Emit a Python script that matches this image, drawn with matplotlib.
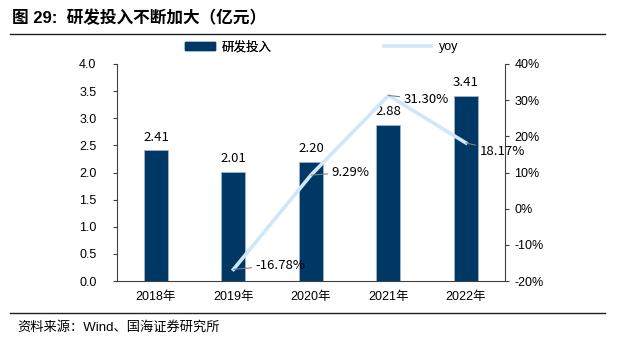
import matplotlib
matplotlib.use("Agg")
import matplotlib.pyplot as plt
from matplotlib.lines import Line2D
from matplotlib.patches import Patch

plt.rcParams['font.family'] = ['Liberation Sans', 'Noto Sans CJK SC']
plt.rcParams['axes.unicode_minus'] = False

years = ['2018年', '2019年', '2020年', '2021年', '2022年']
rd_spend = [2.41, 2.01, 2.20, 2.88, 3.41]
yoy = [None, -16.78, 9.29, 31.30, 18.17]
left_ticks = [0.0, 0.5, 1.0, 1.5, 2.0, 2.5, 3.0, 3.5, 4.0]
right_ticks = [-20, -10, 0, 10, 20, 30, 40]

bar_color = '#003865'
line_color = '#cfe7f8'
lab_font = ['Noto Sans CJK SC', 'DejaVu Sans']

fig = plt.figure(figsize=(6.17, 3.45), dpi=100)
ax = fig.add_axes([0.19, 0.1855, 0.628, 0.629])
ax2 = ax.twinx()

x = list(range(len(years)))
ax.bar(x, rd_spend, width=0.31, color=bar_color, edgecolor='#9fb6cc', linewidth=0.6, zorder=2)
for xi, v in zip(x, rd_spend):
    ax.text(xi, v + 0.12, f'{v:.2f}', ha='center', va='bottom', fontsize=9.5, family=lab_font)

ax.set_xlim(-0.5, 4.5)
ax.set_ylim(0, 4)
ax.set_yticks(left_ticks)
ax.set_yticklabels([f'{t:.1f}' for t in left_ticks], fontsize=9)
ax.set_xticks(x)
ax.set_xticklabels(years, fontsize=9)
ax.tick_params(axis='x', length=0, pad=7)
ax.tick_params(axis='y', direction='out', length=3, width=0.8, color='#404040', pad=12)
for s in ['top', 'right']:
    ax.spines[s].set_visible(False)
ax.spines['left'].set_color('#404040')
ax.spines['bottom'].set_color('#404040')

# yoy line only has values from 2019 on
yx = [xi for xi, v in zip(x, yoy) if v is not None]
yv = [v for v in yoy if v is not None]
ax2.plot(yx, yv, color=line_color, linewidth=2.6, zorder=3)
ax2.set_ylim(-20, 40)
ax2.set_yticks(right_ticks)
ax2.set_yticklabels([f'{t}%' for t in right_ticks], fontsize=9)
ax2.tick_params(axis='y', direction='out', length=3, width=0.8, color='#404040', pad=4)
for s in ['top', 'left', 'bottom']:
    ax2.spines[s].set_visible(False)
ax2.spines['right'].set_color('#404040')

offsets = [(16, 3), (15, 2), (11, -3), (10, -6)]
for xi, v, off in zip(yx, yv, offsets):
    ax2.annotate(f'{v:.2f}%', xy=(xi, v), xytext=off, textcoords='offset points',
                 ha='left', va='center', fontsize=9.5, family=lab_font,
                 arrowprops=dict(arrowstyle='-', color='#808080', lw=0.8,
                                 shrinkA=1, shrinkB=0))

leg1 = fig.legend(handles=[Patch(color=bar_color)], labels=['研发投入'],
                  loc='center left', bbox_to_anchor=(0.3, 0.863), frameon=False,
                  fontsize=9, handlelength=2.4, handleheight=0.55, handletextpad=0.5,
                  borderpad=0, borderaxespad=0)
fig.add_artist(leg1)
fig.legend(handles=[Line2D([], [], color=line_color, lw=2.6)], labels=['yoy'],
           loc='center left', bbox_to_anchor=(0.623, 0.863), frameon=False,
           fontsize=9, handlelength=3.75, handletextpad=0.6,
           borderpad=0, borderaxespad=0)

fig.text(0.02, 0.948, '图 29:  研发投入不断加大（亿元）', fontsize=12, fontweight='bold',
         ha='left', va='center')
fig.add_artist(Line2D([0.016, 0.98], [0.901, 0.901], color='#202020', lw=1))
fig.add_artist(Line2D([0.016, 0.98], [0.093, 0.093], color='#202020', lw=1))
fig.text(0.028, 0.05, '资料来源：Wind、国海证券研究所', fontsize=9.5, ha='left', va='center')

fig.savefig('out.png', dpi=100)
